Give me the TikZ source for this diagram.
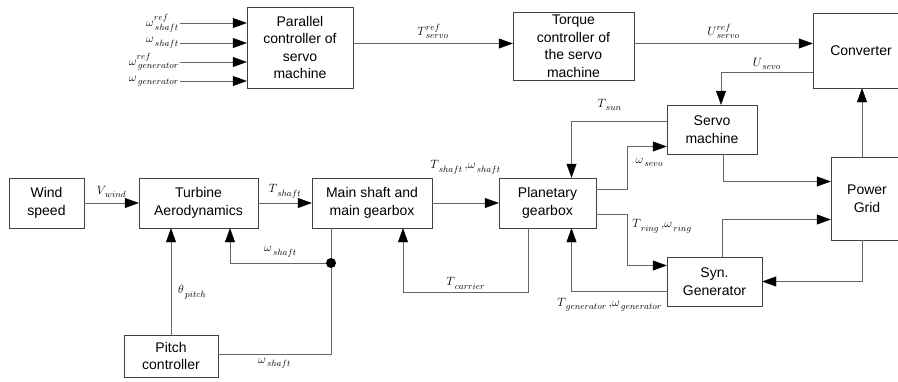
\documentclass[tikz,border=0pt]{standalone}
\usepackage{fontspec}
\setmainfont{Liberation Sans}
\usetikzlibrary{positioning,arrows.meta,calc}

\newcommand{\sgl}[3][]{$#2^{\scriptstyle #1}_{\mkern3mu\scriptstyle #3}$}

\begin{document}
\begin{tikzpicture}[x=1pt,y=-1pt,
    blk/.style={draw=black!75, fill=white, inner sep=0pt, align=center,
                font=\fontsize{14}{17.5}\selectfont},
    sig/.style={draw=black!60, arrows={-{Triangle[length=14pt,width=10pt,color=black]}}},
    wire/.style={draw=black!60},
    lbl/.style={font=\fontsize{13}{15}\selectfont, inner sep=1pt}]

    \useasboundingbox (0,0) rectangle (898,381);

    % blocks
    \node[blk, minimum width=106pt, minimum height=81pt] (par)   at (300,47.5)  {Parallel\\controller of\\servo\\machine};
    \node[blk, minimum width=121pt, minimum height=68pt] (torq)  at (573.5,46)  {Torque\\controller of\\the servo\\machine};
    \node[blk, minimum width=96pt,  minimum height=75pt] (conv)  at (861,50.5)  {Converter};
    \node[blk, minimum width=90pt,  minimum height=49pt] (servo) at (712,129.5) {Servo\\machine};
    \node[blk, minimum width=97pt,  minimum height=50pt] (plan)  at (547.5,203) {Planetary\\gearbox};
    \node[blk, minimum width=72pt,  minimum height=83pt] (grid)  at (867,198.5) {Power\\Grid};
    \node[blk, minimum width=95pt,  minimum height=49pt] (syn)   at (714.5,281.5) {Syn.\\Generator};
    \node[blk, minimum width=120pt, minimum height=50pt] (main)  at (372,203)   {Main shaft and\\main gearbox};
    \node[blk, minimum width=119pt, minimum height=50pt] (turb)  at (198.5,203) {Turbine\\Aerodynamics};
    \node[blk, minimum width=75pt,  minimum height=50pt] (wind)  at (46.5,203)  {Wind\\speed};
    \node[blk, minimum width=94pt,  minimum height=42pt] (pitch) at (171,356)   {Pitch\\controller};

    % inputs of the parallel controller
    \coordinate[label={[lbl]left:{\sgl[ref]{\omega}{shaft}}}] (in1) at (180,23);
    \coordinate[label={[lbl]left:{\sgl{\omega}{shaft}}}] (in2) at (180,43);
    \coordinate[label={[lbl]left:{\sgl[ref]{\omega}{generator}}}] (in3) at (180,62);
    \coordinate[label={[lbl]left:{\sgl{\omega}{generator}}}] (in4) at (180,81);
    \foreach \i in {1,...,4}
        \draw[sig] (in\i) -- (in\i -| par.west);

    % top row
    \draw[sig] ([yshift=4pt]par.east) -- node[lbl, above=4pt] {\sgl[ref]{T}{servo}} ([yshift=4pt]par.east -| torq.west);
    \draw[sig] ([yshift=2.5pt]torq.east) -- node[lbl, above=4pt] {\sgl[ref]{U}{servo}} ([yshift=2.5pt]torq.east -| conv.west);
    \draw[sig] ([yshift=-22pt]conv.west) -| node[lbl, pos=0.25, above=2pt] {\sgl{U}{sevo}} ([xshift=9pt]servo.north);

    % servo machine and planetary gearbox
    \draw[sig] ([yshift=8pt]servo.west) -| node[lbl, pos=0.3, above=10pt] {\sgl{T}{sun}} ([xshift=24pt]plan.north);
    \draw[sig] ([yshift=14pt]plan.east) -- ++(31,0) |- node[lbl, pos=0.78, below=11pt] {\sgl{\omega}{sevo}} ([yshift=-17pt]servo.west);
    \draw[sig] ([yshift=-11pt]plan.east) -- ++(31,0) |- node[lbl, pos=0.12, right=4pt] {\sgl{T}{ring}$\,,$\sgl{\omega}{ring}} ([yshift=16pt]syn.west);
    \draw[sig] ([xshift=11pt]servo.south) |- ([yshift=17pt]grid.west);
    \draw[sig] ([xshift=8pt]syn.north) |- ([yshift=-21pt]grid.west);
    \draw[sig] ([xshift=-5pt]grid.north) -- ([xshift=-5pt]grid.north |- conv.south);
    \draw[sig] ([xshift=-5pt]grid.south) |- (syn.east);
    \draw[sig] ([yshift=-10pt]syn.west) -| node[lbl, pos=0.3, below=6pt] {\sgl{T}{generator}$\,,$\sgl{\omega}{generator}} ([xshift=24pt]plan.south);
    \draw[sig] ([xshift=-19pt]plan.south) -- ++(0,64) -| node[lbl, pos=0.25, above=2pt] {\sgl{T}{carrier}} ([xshift=31pt]main.south);

    % drive train
    \draw[sig] (wind.east) -- node[lbl, above=4pt] {\sgl{V}{wind}} (turb.west);
    \draw[sig] (turb.east) -- node[lbl, above=4pt] {\sgl{T}{shaft}} (main.west);
    \draw[sig] (main.east) -- node[lbl, above=28pt] {\sgl{T}{shaft}$\,,$\sgl{\omega}{shaft}} (plan.west);

    % shaft speed feedback
    \coordinate (jn) at (331,263);
    \draw[wire] ([xshift=-41pt]main.south) -- (jn);
    \draw[sig] (jn) -| node[lbl, pos=0.25, above=5pt] {\sgl{\omega}{shaft}} ([xshift=31.5pt]turb.south);
    \draw[wire] ([yshift=2pt]pitch.east) -| node[lbl, pos=0.25, below=3pt] {\sgl{\omega}{shaft}} (jn);
    \draw[sig] (pitch.north) -- node[lbl, right=6pt, pos=0.4] {\sgl{\theta}{pitch}} (pitch.north |- turb.south);
    \fill[black] (jn) circle (5pt);

\end{tikzpicture}
\end{document}
